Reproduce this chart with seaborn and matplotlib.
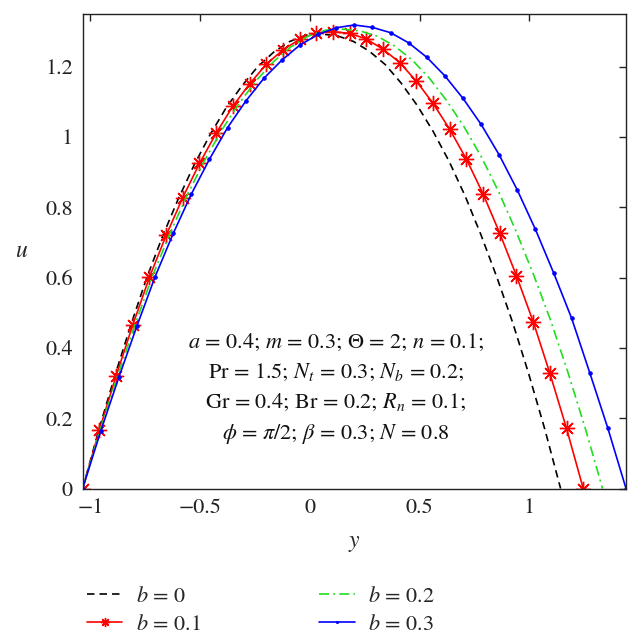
import numpy as np
import pandas as pd
import matplotlib
matplotlib.use('Agg')
import matplotlib.pyplot as plt
import seaborn as sns

# wall positions (left wall common, right wall depends on b)
y_left = -1.035
y_right = [1.142, 1.245, 1.333, 1.44]
labels = ['$b$ = 0', '$b$ = 0.1', '$b$ = 0.2', '$b$ = 0.3']

# velocity profiles, 31 points from left wall to right wall
u_b0 = [0, 0.165, 0.318, 0.462, 0.597, 0.716, 0.824, 0.921, 1.007, 1.083, 1.146,
        1.201, 1.242, 1.272, 1.290, 1.293, 1.288, 1.272, 1.244, 1.206, 1.153,
        1.090, 1.016, 0.931, 0.833, 0.722, 0.601, 0.471, 0.326, 0.170, 0]
u_b1 = [0, 0.166, 0.320, 0.465, 0.601, 0.720, 0.828, 0.925, 1.011, 1.088, 1.151,
        1.207, 1.248, 1.278, 1.297, 1.300, 1.295, 1.279, 1.250, 1.212, 1.159,
        1.096, 1.022, 0.937, 0.838, 0.726, 0.605, 0.475, 0.328, 0.171, 0]
u_b2 = [0, 0.165, 0.318, 0.463, 0.601, 0.722, 0.832, 0.930, 1.018, 1.094, 1.160,
        1.214, 1.256, 1.287, 1.304, 1.307, 1.302, 1.287, 1.259, 1.220, 1.168,
        1.104, 1.030, 0.944, 0.845, 0.733, 0.611, 0.479, 0.331, 0.172, 0]
u_b3 = [0, 0.164, 0.317, 0.463, 0.603, 0.726, 0.838, 0.937, 1.027, 1.102, 1.167,
        1.219, 1.262, 1.292, 1.311, 1.319, 1.312, 1.297, 1.268, 1.227, 1.174,
        1.110, 1.036, 0.949, 0.849, 0.737, 0.614, 0.484, 0.329, 0.171, 0]
profiles = [u_b0, u_b1, u_b2, u_b3]

xticks = [-1, -0.5, 0, 0.5, 1]
xticklabels = ['\u22121', '\u22120.5', '0', '0.5', '1']
yticks = [0, 0.2, 0.4, 0.6, 0.8, 1, 1.2]
yticklabels = ['0', '0.2', '0.4', '0.6', '0.8', '1', '1.2']

sns.set_style('white')
plt.rcParams['font.family'] = 'STIXGeneral'
plt.rcParams['mathtext.fontset'] = 'stix'

styles = [
    dict(color='black', linestyle=(0, (4.5, 3)), marker=None),
    dict(color='red', linestyle='-', marker=(8, 2, 0), markersize=11,
         markeredgewidth=1.0, markeredgecolor='red', markerfacecolor='none'),
    dict(color='#22dd22', linestyle=(0, (6, 2.5, 1.2, 2.5)), marker=None),
    dict(color='blue', linestyle='-', marker='.', markersize=5,
         markeredgecolor='blue'),
]

fig = plt.figure(figsize=(6.43, 6.39), dpi=100)
ax = fig.add_axes([0.1286, 0.2355, 0.8450, 0.7425])

for ur, u, lab, st in zip(y_right, profiles, labels, styles):
    df = pd.DataFrame({'y': np.linspace(y_left, ur, len(u)), 'u': u})
    sns.lineplot(data=df, x='y', y='u', ax=ax, label=lab, sort=False,
                 linewidth=1.2, **st)

ax.set_xlim(y_left, 1.44)
ax.set_ylim(0, 1.35)
ax.set_xticks(xticks)
ax.set_xticklabels(xticklabels)
ax.set_yticks(yticks)
ax.set_yticklabels(yticklabels)
ax.tick_params(direction='in', top=True, right=True, length=5, width=1,
               labelsize=16, pad=7, colors='#222222', labelcolor='#222222')
for s in ax.spines.values():
    s.set_color('#222222')
    s.set_linewidth(1.0)

ax.set_xlabel('$y$', fontsize=17)
ax.set_ylabel('$u$', fontsize=17, rotation=0)
ax.xaxis.set_label_coords(0.5, -0.115)
ax.yaxis.set_label_coords(-0.112, 0.5)
ax.xaxis.label.set_va('center')
ax.yaxis.label.set_va('center')

ax.text(0.118, 0.283, '$a$ = 0.4; $m$ = 0.3; $\\Theta$ = 2; $n$ = 0.1;\n'
        'Pr = 1.5; $N_t$ = 0.3; $N_b$ = 0.2;\n'
        'Gr = 0.4; Br = 0.2; $R_n$ = 0.1;\n'
        '$\\phi$ = $\\pi$/2; $\\beta$ = 0.3; $N$ = 0.8',
        ha='center', va='center', fontsize=16, linespacing=1.55, color='#111111')

ax.legend(loc='upper left', bbox_to_anchor=(0.135, 0.083), bbox_transform=fig.transFigure,
          ncol=2, frameon=False, fontsize=16, handlelength=1.6, handletextpad=0.6,
          columnspacing=5.35, labelspacing=0.35, borderpad=0, borderaxespad=0,
          markerscale=0.6)

fig.savefig('out.png', dpi=100)
